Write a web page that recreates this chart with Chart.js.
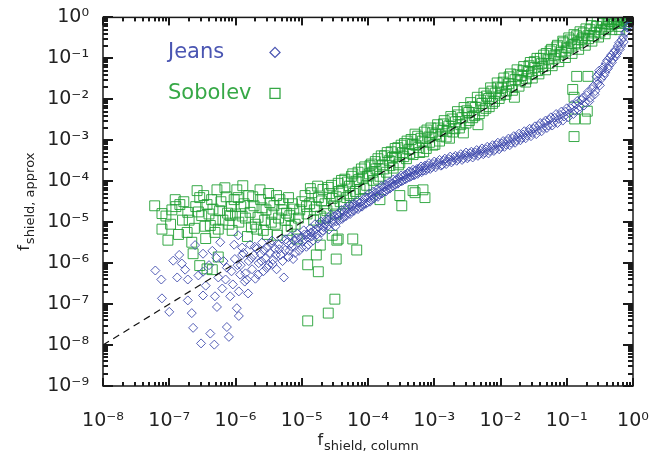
<!DOCTYPE html>
<html>
<head>
<meta charset="utf-8">
<script src="https://cdn.jsdelivr.net/npm/chart.js@4.4.0/dist/chart.umd.min.js"></script>
<style>
  html, body { margin: 0; padding: 0; background: #fff; }
</style>
</head>
<body>
<canvas id="shieldChart" width="670" height="458"></canvas>
<script>
// all points are [log10 f_column, log10 f_approx]
const jeansCloud = [
  [-7.21,-6.18],[-7.12,-6.40],[-7.11,-6.86],[-7.00,-7.19],[-6.94,-5.94],[-6.88,-6.35],
  [-6.85,-5.80],[-6.81,-6.01],[-6.76,-6.16],[-6.72,-6.40],[-6.72,-6.91],[-6.66,-7.22],
  [-6.64,-7.58],[-6.61,-5.56],[-6.56,-6.30],[-6.52,-7.96],[-6.49,-5.77],[-6.49,-6.21],
  [-6.49,-6.79],[-6.38,-7.72],[-6.32,-7.99],[-6.31,-6.81],[-6.29,-5.87],[-6.28,-7.07],
  [-6.23,-5.49],[-6.20,-6.62],[-6.13,-6.11],[-6.13,-7.56],[-6.10,-7.80],[-6.08,-6.81],
  [-6.04,-6.52],[-6.01,-5.90],[-5.98,-7.10],[-5.96,-5.32],[-5.95,-7.29],[-5.95,-6.69],
  [-5.93,-6.28],[-5.86,-6.45],[-5.81,-6.74],[-6.40,-6.05],[-6.35,-5.70],[-6.18,-5.95],
  [-6.15,-6.40],[-6.06,-6.20],[-6.02,-5.55],[-5.97,-6.05],[-5.90,-5.80],[-6.26,-6.35],
  [-6.45,-6.55]
];

const jeansBand = [
  [-5.92,-6.05],[-5.88,-5.75],[-5.85,-6.25],[-5.80,-5.95],[-5.78,-5.55],[-5.75,-6.15],
  [-5.72,-5.80],[-5.70,-6.38],[-5.68,-5.65],[-5.65,-6.00],[-5.62,-5.78],[-5.60,-5.50],
  [-5.58,-6.20],[-5.55,-5.88],[-5.52,-5.62],[-5.50,-6.05],[-5.48,-5.75],[-5.45,-5.45],
  [-5.43,-5.92],[-5.40,-5.65],[-5.38,-6.15],[-5.35,-5.55],[-5.32,-5.80],[-5.30,-5.40],
  [-5.27,-6.35],[-5.25,-5.68],[-5.22,-5.50],[-5.20,-5.85],[-5.17,-5.35],[-5.15,-5.60],
  [-5.12,-5.45],[-5.10,-5.75],[-5.07,-5.28],[-5.05,-5.50],[-5.02,-5.38],[-5.00,-5.62],
  [-4.97,-5.20],[-4.95,-5.42],[-4.92,-5.30],[-4.90,-5.55],[-4.87,-5.15],[-4.85,-5.35],
  [-4.82,-5.22],[-4.80,-5.05],[-4.77,-5.30],[-4.74,-5.12],[-4.71,-4.98],[-4.68,-5.20],
  [-4.65,-5.05],[-4.62,-4.92],
  [-4.60,-5.08],[-4.57,-4.90],[-4.54,-5.02],[-4.51,-4.85],[-4.48,-4.98],[-4.45,-4.88],
  [-4.42,-4.78],[-4.39,-4.92],[-4.36,-4.75],[-4.33,-4.85],[-4.30,-4.68],[-4.27,-4.80],
  [-4.24,-4.62],[-4.21,-4.72],[-4.18,-4.58],[-4.15,-4.68],[-4.12,-4.52],[-4.09,-4.62],
  [-4.06,-4.45],[-4.03,-4.55],[-4.00,-4.40],[-3.97,-4.50],[-3.94,-4.35],[-3.91,-4.42],
  [-3.88,-4.28],[-3.85,-4.38],[-3.82,-4.22],[-3.79,-4.30],[-3.76,-4.15],[-3.73,-4.25],
  [-3.70,-4.10],[-3.67,-4.18],[-3.64,-4.05],[-3.61,-4.12],[-3.58,-3.98],[-3.55,-4.06],
  [-3.52,-3.92],[-3.49,-4.00],[-3.46,-3.88],[-3.43,-3.95],[-3.40,-3.82],[-3.37,-3.90],
  [-3.34,-3.78],[-3.31,-3.86],[-3.28,-3.74],[-3.25,-3.82],[-3.22,-3.70],[-3.19,-3.78],
  [-3.16,-3.66],[-3.13,-3.74],[-3.10,-3.62],[-3.06,-3.70],[-3.02,-3.58],[-2.98,-3.66],
  [-2.94,-3.55],[-2.90,-3.62],[-2.86,-3.50],[-2.82,-3.58],[-2.78,-3.46],[-2.74,-3.54],
  [-2.70,-3.42],[-2.66,-3.50],[-2.62,-3.40],[-2.58,-3.48],[-2.54,-3.36],[-2.50,-3.44],
  [-2.46,-3.32],[-2.42,-3.42],[-2.38,-3.30],[-2.34,-3.38],[-2.30,-3.26],[-2.26,-3.34],
  [-2.22,-3.22],[-2.18,-3.32],[-2.14,-3.18],[-2.10,-3.26],[-2.06,-3.12],[-2.02,-3.22],
  [-1.98,-3.08],[-1.94,-3.16],[-1.90,-3.02],[-1.86,-3.12],[-1.82,-2.96],[-1.78,-3.06],
  [-1.74,-2.92],[-1.70,-3.00],[-1.66,-2.86],[-1.62,-2.95],[-1.58,-2.80],[-1.54,-2.90],
  [-1.50,-2.72],[-1.46,-2.85],[-1.42,-2.65],[-1.38,-2.78],[-1.34,-2.58],[-1.30,-2.70],
  [-1.26,-2.50],[-1.22,-2.64],[-1.18,-2.45],[-1.14,-2.58],[-1.10,-2.38],[-1.06,-2.52],
  [-1.02,-2.30],[-0.98,-2.44],[-0.94,-2.22],[-0.90,-2.36],[-0.86,-2.12],[-0.82,-2.26],
  [-0.78,-2.02],[-0.74,-2.15],[-0.70,-1.90],[-0.66,-2.05],[-0.62,-1.75],[-0.58,-1.88],
  [-0.55,-1.45],[-0.53,-1.62],[-0.51,-1.30],[-0.48,-1.50],[-0.45,-1.22],[-0.42,-1.35],
  [-0.39,-1.05],[-0.36,-1.18],[-0.33,-0.92],[-0.30,-1.02],[-0.27,-0.80],[-0.24,-0.88],
  [-0.21,-0.62],[-0.18,-0.70],[-0.15,-0.48],[-0.12,-0.38],[-0.09,-0.25],[-0.06,-0.15],
  [-0.03,-0.06]
];

const jeansBandFill = [
  [-5.90,-5.62],[-5.83,-6.40],[-5.76,-5.88],[-5.71,-5.60],[-5.66,-6.28],[-5.61,-5.95],
  [-5.57,-5.70],[-5.53,-6.12],[-5.47,-5.52],[-5.44,-6.02],[-5.39,-5.80],[-5.34,-5.66],
  [-5.29,-5.95],[-5.24,-5.42],[-5.19,-5.70],[-5.16,-5.52],[-5.13,-5.90],[-5.08,-5.40],
  [-5.04,-5.70],[-4.99,-5.48],[-4.96,-5.30],[-4.93,-5.60],[-4.89,-5.38],[-4.86,-5.25],
  [-4.83,-5.45],[-4.79,-5.18],[-4.76,-5.40],[-4.73,-5.02],[-4.70,-5.25],[-4.67,-5.12],
  [-4.63,-4.98],[-4.59,-5.18],[-4.56,-4.82],[-4.53,-4.95],[-4.49,-5.10],[-4.46,-4.80],
  [-4.43,-4.95],[-4.40,-4.70],[-4.37,-4.88],[-4.34,-4.66],[-4.31,-4.78],[-4.28,-4.58],
  [-4.25,-4.74],[-4.22,-4.55],[-4.19,-4.66],[-4.16,-4.48],[-4.13,-4.63],[-4.10,-4.50],
  [-4.07,-4.56],[-4.04,-4.38],[-4.01,-4.52],[-3.98,-4.30],[-3.95,-4.45],[-3.92,-4.25],
  [-3.89,-4.36],[-3.86,-4.20],[-3.83,-4.32],[-3.80,-4.12],[-3.77,-4.26],[-3.74,-4.08],
  [-3.71,-4.20],[-3.68,-4.02],[-3.65,-4.14],[-3.62,-3.96],[-3.59,-4.08],[-3.56,-3.94],
  [-3.53,-4.02],[-3.50,-3.86],[-3.47,-3.98],[-3.44,-3.84],[-3.41,-3.92],[-3.38,-3.76],
  [-3.35,-3.88],[-3.32,-3.72],[-3.29,-3.84],[-3.26,-3.70],[-3.23,-3.77],[-3.20,-3.64],
  [-3.17,-3.74],[-3.14,-3.62],[-3.11,-3.70],[-3.08,-3.56],[-3.04,-3.66],[-3.00,-3.52],
  [-2.96,-3.60],[-2.92,-3.48],[-2.88,-3.60],[-2.84,-3.45],[-2.80,-3.52],[-2.76,-3.40],
  [-2.72,-3.50],[-2.68,-3.38],[-2.64,-3.46],[-2.60,-3.34],[-2.56,-3.44],[-2.52,-3.30],
  [-2.48,-3.40],[-2.44,-3.28],[-2.40,-3.36],[-2.36,-3.24],[-2.32,-3.34],[-2.28,-3.20],
  [-2.24,-3.30],[-2.20,-3.16],[-2.16,-3.26],[-2.12,-3.12],[-2.08,-3.22],[-2.04,-3.06],
  [-2.00,-3.16],[-1.96,-3.02],[-1.92,-3.10],[-1.88,-2.96],[-1.84,-3.06],[-1.80,-2.90],
  [-1.76,-3.00],[-1.72,-2.84],[-1.68,-2.94],[-1.64,-2.78],[-1.60,-2.88],[-1.56,-2.72],
  [-1.52,-2.82],[-1.48,-2.66],[-1.44,-2.76],[-1.40,-2.58],[-1.36,-2.70],[-1.32,-2.52],
  [-1.28,-2.64],[-1.24,-2.44],[-1.20,-2.56],[-1.16,-2.36],[-1.12,-2.48],[-1.08,-2.30],
  [-1.04,-2.42],[-1.00,-2.22],[-0.96,-2.34],[-0.92,-2.14],[-0.88,-2.28],[-0.84,-2.04],
  [-0.80,-2.18],[-0.76,-1.96],[-0.72,-2.08],[-0.68,-1.82],[-0.64,-1.96],[-0.60,-1.68],
  [-0.57,-1.80],[-0.54,-1.55],[-0.52,-1.38],[-0.50,-1.66],[-0.47,-1.30],[-0.44,-1.42],
  [-0.41,-1.12],[-0.38,-1.25],[-0.35,-0.98],[-0.32,-1.10],[-0.29,-0.86],[-0.26,-0.95],
  [-0.23,-0.70],[-0.20,-0.78],[-0.17,-0.55],[-0.14,-0.60],[-0.11,-0.35],[-0.07,-0.22],
  [-0.04,-0.10]
];

const sobolevCloud = [
  [-7.22,-4.60],[-7.11,-4.79],[-7.11,-5.17],[-7.02,-5.44],[-6.96,-4.70],[-6.91,-4.45],
  [-6.84,-4.57],[-6.80,-4.95],[-6.73,-5.25],[-6.72,-4.76],[-6.66,-5.49],[-6.64,-5.77],
  [-6.60,-4.62],[-6.58,-4.23],[-6.54,-4.40],[-6.54,-6.06],[-6.51,-4.84],[-6.46,-5.10],
  [-6.43,-4.57],[-6.43,-6.14],[-6.38,-5.08],[-6.35,-6.16],[-6.34,-4.68],[-6.30,-4.95],
  [-6.28,-4.21],[-6.26,-5.17],[-6.26,-5.85],[-6.22,-4.50],[-6.16,-4.16],[-6.12,-4.78],
  [-6.08,-4.84],[-6.05,-5.20],[-6.02,-4.45],[-5.98,-4.21],[-5.95,-5.00],[-5.92,-4.62],
  [-5.89,-4.11],[-5.85,-4.90],[-5.82,-5.35],[-5.78,-4.76],[-5.74,-4.38],[-5.70,-5.05],
  [-5.68,-5.17],[-5.63,-4.21],[-5.60,-4.65],[-5.56,-4.95],[-5.52,-5.30],[-5.48,-4.52],
  [-5.45,-4.80],[-5.40,-5.05],[-5.37,-5.32],[-5.33,-4.45],[-5.30,-4.70],[-5.25,-4.95],
  [-5.22,-5.20],[-5.18,-4.84],[-5.14,-4.55],[-5.10,-5.05],[-5.07,-5.41],[-5.03,-4.70],
  [-7.05,-4.85],[-6.98,-5.05],[-6.90,-4.62],[-6.86,-5.30],[-6.78,-4.50],[-6.70,-4.95],
  [-6.62,-5.15],[-6.56,-4.75],[-6.48,-4.35],[-6.45,-5.40],[-6.40,-4.80],[-6.36,-4.45],
  [-6.31,-5.25],[-6.24,-4.72],[-6.19,-4.95],[-6.14,-4.38],[-6.10,-5.05],[-6.06,-4.62],
  [-6.00,-4.80],[-5.96,-4.40],[-5.90,-4.85],[-5.87,-4.55],[-5.80,-4.35],[-5.76,-5.12],
  [-5.72,-4.60],[-5.66,-4.88],[-5.62,-4.45],[-5.58,-5.20],[-5.54,-4.70],[-5.50,-4.30],
  [-5.46,-5.00],[-5.42,-4.60],[-5.38,-4.35],[-5.35,-4.90],[-5.28,-4.55],[-5.23,-4.78],
  [-5.20,-4.40],[-5.16,-5.10],[-5.12,-4.68],[-5.05,-4.90],[-5.00,-4.50]
];

const sobolevBand = [
  [-4.95,-4.35],[-4.92,-4.80],[-4.88,-4.55],[-4.85,-4.28],[-4.82,-4.95],[-4.78,-4.62],
  [-4.75,-4.40],[-4.72,-4.85],[-4.68,-4.20],[-4.65,-4.55],[-4.62,-4.72],[-4.58,-4.30],
  [-4.55,-4.10],[-4.52,-4.60],[-4.48,-4.38],[-4.45,-4.05],[-4.42,-4.50],[-4.38,-4.22],
  [-4.35,-3.95],[-4.32,-4.40],[-4.28,-4.12],[-4.25,-3.88],[-4.22,-4.30],[-4.18,-4.00],
  [-4.15,-3.78],[-4.12,-4.20],[-4.08,-3.92],[-4.05,-3.65],[-4.02,-4.10],[-3.98,-3.82],
  [-3.95,-3.58],[-3.92,-3.98],[-3.88,-3.70],[-3.85,-3.45],[-3.82,-3.88],[-3.78,-3.60],
  [-3.75,-3.38],[-3.72,-3.78],[-3.68,-3.50],[-3.65,-3.28],[-3.62,-3.68],[-3.58,-3.40],
  [-3.55,-3.18],[-3.52,-3.55],[-3.48,-3.30],[-3.45,-3.08],[-3.42,-3.45],[-3.38,-3.22],
  [-3.35,-2.98],[-3.32,-3.35],[-3.28,-3.12],[-3.25,-2.90],[-3.22,-3.30],[-3.18,-3.02],
  [-3.15,-2.80],[-3.12,-3.20],[-3.08,-2.92],[-3.05,-2.70],[-3.02,-3.12],[-2.98,-2.85],
  [-2.95,-2.62],[-2.92,-3.02],[-2.88,-2.75],[-2.85,-2.52],[-2.82,-2.92],[-2.78,-2.65],
  [-2.75,-2.42],[-2.72,-2.80],[-2.68,-2.55],[-2.65,-2.30],[-2.62,-2.70],[-2.58,-2.45],
  [-2.55,-2.20],[-2.52,-2.58],[-2.48,-2.32],[-2.45,-2.08],[-2.42,-2.45],[-2.38,-2.20],
  [-2.35,-1.95],[-2.32,-2.35],[-2.28,-2.10],[-2.25,-1.85],[-2.22,-2.22],[-2.18,-1.98],
  [-2.15,-1.72],[-2.12,-2.10],[-2.08,-1.85],[-2.05,-1.60],[-2.02,-1.98],[-1.98,-1.72],
  [-1.95,-1.48],[-1.92,-1.88],[-1.88,-1.62],[-1.85,-1.38],[-1.82,-1.78],[-1.78,-1.52],
  [-1.75,-1.28],[-1.72,-1.68],[-1.68,-1.42],[-1.65,-1.20],[-1.62,-1.58],[-1.58,-1.32],
  [-1.55,-1.10],[-1.52,-1.48],[-1.48,-1.22],[-1.45,-1.00],[-1.42,-1.38],[-1.38,-1.12],
  [-1.35,-0.92],[-1.32,-1.28],[-1.28,-1.02],[-1.25,-0.82],[-1.22,-1.18],[-1.18,-0.92],
  [-1.15,-0.72],[-1.12,-1.08],[-1.08,-0.85],[-1.05,-0.62],[-1.02,-0.98],[-0.98,-0.75],
  [-0.95,-0.55],[-0.92,-0.88],[-0.88,-0.65],[-0.85,-0.45],[-0.82,-0.78],[-0.78,-0.55],
  [-0.75,-0.38],[-0.72,-0.68],[-0.68,-0.45],[-0.65,-0.30],[-0.62,-0.58],[-0.58,-0.38],
  [-0.55,-0.22],[-0.52,-0.48],[-0.48,-0.30],[-0.45,-0.15],[-0.42,-0.40],[-0.38,-0.22],
  [-0.35,-0.10],[-0.32,-0.30],[-0.28,-0.15],[-0.25,-0.05],[-0.22,-0.22],[-0.18,-0.08],
  [-0.15,-0.02],[-0.12,-0.15],[-0.08,-0.05],[-0.05,0.00],[-0.02,-0.03]
];

const sobolevBandFill = [
  [-4.93,-4.62],[-4.87,-4.18],[-4.81,-4.70],[-4.76,-4.12],[-4.70,-4.48],[-4.64,-4.90],
  [-4.60,-4.15],[-4.54,-4.42],[-4.49,-4.80],[-4.44,-4.25],[-4.40,-3.98],[-4.36,-4.55],
  [-4.31,-4.02],[-4.27,-4.35],[-4.23,-3.82],[-4.19,-4.25],[-4.14,-3.96],[-4.10,-3.70],
  [-4.06,-4.18],[-4.01,-3.88],[-3.97,-3.62],[-3.93,-3.78],[-3.89,-3.52],[-3.84,-3.95],
  [-3.80,-3.38],[-3.76,-3.70],[-3.71,-3.30],[-3.67,-3.62],[-3.63,-3.42],[-3.59,-3.20],
  [-3.54,-3.60],[-3.50,-3.12],[-3.46,-3.40],[-3.41,-3.02],[-3.37,-3.32],[-3.33,-3.10],
  [-3.29,-2.85],[-3.24,-3.18],[-3.20,-2.95],[-3.16,-3.28],[-3.11,-2.75],[-3.07,-3.05],
  [-3.03,-2.82],[-2.99,-3.10],[-2.94,-2.70],[-2.90,-2.90],[-2.86,-2.60],[-2.81,-2.78],
  [-2.77,-2.95],[-2.73,-2.48],[-2.69,-2.72],[-2.64,-2.38],[-2.60,-2.62],[-2.56,-2.82],
  [-2.51,-2.28],[-2.47,-2.52],[-2.43,-2.18],[-2.39,-2.40],[-2.34,-2.62],[-2.30,-2.02],
  [-2.26,-2.28],[-2.21,-1.92],[-2.17,-2.18],[-2.13,-1.80],[-2.09,-2.05],[-2.04,-1.70],
  [-2.00,-1.90],[-1.96,-1.58],[-1.91,-1.80],[-1.87,-1.45],[-1.83,-1.68],[-1.79,-1.95],
  [-1.74,-1.40],[-1.70,-1.55],[-1.66,-1.30],[-1.61,-1.50],[-1.57,-1.18],[-1.53,-1.38],
  [-1.49,-1.08],[-1.44,-1.30],[-1.40,-1.00],[-1.36,-1.20],[-1.31,-0.88],[-1.27,-1.12],
  [-1.23,-0.78],[-1.19,-1.00],[-1.14,-0.68],[-1.10,-0.90],[-1.06,-0.58],[-1.01,-0.82],
  [-0.97,-0.50],[-0.93,-0.70],[-0.89,-0.42],[-0.84,-0.62],[-0.80,-0.35],[-0.76,-0.50],
  [-0.71,-0.28],[-0.67,-0.52],[-0.63,-0.20],[-0.59,-0.45],[-0.54,-0.12],[-0.50,-0.36],
  [-0.46,-0.08],[-0.41,-0.28],[-0.37,-0.05],[-0.33,-0.18],[-0.29,-0.02],[-0.24,-0.12],
  [-0.20,-0.30],[-0.16,0.00],[-0.10,-0.10],[-0.06,-0.18]
];

const sobolevOutliers = [
  [-4.91,-6.04],[-4.75,-6.21],[-4.48,-5.90],[-4.78,-5.80],[-4.72,-5.56],[-4.47,-5.44],
  [-4.23,-5.41],[-4.17,-5.68],[-4.54,-5.32],[-4.45,-5.41],[-4.91,-7.41],[-4.60,-7.22],
  [-4.50,-6.88],[-3.82,-4.45],[-3.52,-4.35],[-3.49,-4.60],[-3.32,-4.23],[-3.29,-4.28],
  [-3.17,-4.21],[-3.14,-4.40],[-0.85,-1.44],[-0.68,-1.44],[-0.91,-1.76],[-0.89,-1.95],
  [-0.69,-2.29],[-0.72,-2.48],[-0.88,-2.48],[-0.89,-2.91]
];

// one-to-one line
const equalX = [1e-8, 1];
const equalY = [1e-8, 1];

const xRange = [1e-8, 1];
const yRange = [1e-9, 1];

const jeansColor = "rgba(60,72,172,0.88)";
const sobolevColor = "rgba(30,158,48,0.88)";

function toPoints(list) {
  return list.map((p) => ({ x: Math.pow(10, p[0]), y: Math.pow(10, p[1]) }));
}

const supDigits = { "-": "\u207B", "0": "\u2070", "1": "\u00B9", "2": "\u00B2", "3": "\u00B3",
  "4": "\u2074", "5": "\u2075", "6": "\u2076", "7": "\u2077", "8": "\u2078", "9": "\u2079" };

function isDecade(v) {
  const e = Math.log10(v);
  return Math.abs(e - Math.round(e)) < 1e-6;
}

function decadeLabel(v) {
  if (!isDecade(v)) return "";
  const e = Math.round(Math.log10(v));
  return "10" + String(e).split("").map((c) => supDigits[c]).join("");
}

// 1..9 x 10^n marks between min and max
function logMarks(min, max) {
  const marks = [];
  for (let e = Math.floor(Math.log10(min)); e <= Math.ceil(Math.log10(max)); e++) {
    for (let k = 1; k <= 9; k++) {
      const v = k * Math.pow(10, e);
      if (v >= min * 0.999 && v <= max * 1.001) marks.push({ v: v, major: k === 1 });
    }
  }
  return marks;
}

// box with inward ticks on all four sides, like the original
const frameTicks = {
  id: "frameTicks",
  afterDraw(chart) {
    const c = chart.ctx;
    const a = chart.chartArea;
    const sx = chart.scales.x;
    const sy = chart.scales.y;
    c.save();
    c.fillStyle = "#1a1a1a";
    logMarks(xRange[0], xRange[1]).forEach((m) => {
      const px = Math.round(sx.getPixelForValue(m.v));
      const len = m.major ? 8 : 4;
      c.fillRect(px - 1, a.bottom - len, 2, len);
      c.fillRect(px - 1, a.top, 2, len);
    });
    logMarks(yRange[0], yRange[1]).forEach((m) => {
      const py = Math.round(sy.getPixelForValue(m.v));
      const len = m.major ? 10 : 5;
      c.fillRect(a.left, py - 1, len, 2);
      c.fillRect(a.right - len, py - 1, len, 2);
    });
    c.strokeStyle = "#1a1a1a";
    c.lineWidth = 1.5;
    c.strokeRect(a.left, a.top, a.right - a.left, a.bottom - a.top);
    c.restore();
  },
};

// axis titles with subscripts
const axisTitles = {
  id: "axisTitles",
  afterDraw(chart) {
    const c = chart.ctx;
    const a = chart.chartArea;
    const big = "16px 'DejaVu Sans'";
    const small = "13px 'DejaVu Sans'";
    c.save();
    c.fillStyle = "#222";
    c.textBaseline = "alphabetic";

    c.font = big;
    const fW = c.measureText("f").width;
    c.font = small;
    const subX = "shield, column";
    const subXW = c.measureText(subX).width;
    const x0 = (a.left + a.right) / 2 - (fW + 1 + subXW) / 2;
    c.font = big;
    c.fillText("f", x0, 445);
    c.font = small;
    c.fillText(subX, x0 + fW + 1, 450);

    const subY = "shield, approx";
    const subYW = c.measureText(subY).width;
    c.translate(29, (a.top + a.bottom) / 2);
    c.rotate(-Math.PI / 2);
    const y0 = -(fW + 1 + subYW) / 2;
    c.font = big;
    c.fillText("f", y0, 0);
    c.font = small;
    c.fillText(subY, y0 + fW + 1, 5);
    c.restore();
  },
};

// legend: name first, symbol after it
const textLegend = {
  id: "textLegend",
  afterDraw(chart) {
    const c = chart.ctx;
    const a = chart.chartArea;
    const tx = a.left + 65;
    const mx = a.left + 172;
    const rows = [
      { text: "Jeans", color: "#4a55b2", y: a.top + 35, shape: "diamond" },
      { text: "Sobolev", color: "#36a846", y: a.top + 76, shape: "square" },
    ];
    c.save();
    c.setLineDash([]);
    c.font = "21px 'DejaVu Sans'";
    c.textBaseline = "middle";
    rows.forEach((r) => {
      c.fillStyle = r.color;
      c.fillText(r.text, tx, r.y);
      c.strokeStyle = r.color;
      c.lineWidth = 1.3;
      c.beginPath();
      if (r.shape === "diamond") {
        c.moveTo(mx, r.y - 5);
        c.lineTo(mx + 5, r.y);
        c.lineTo(mx, r.y + 5);
        c.lineTo(mx - 5, r.y);
        c.closePath();
      } else {
        c.rect(mx - 5, r.y - 5, 10, 10);
      }
      c.stroke();
    });
    c.restore();
  },
};

const canvas = document.getElementById("shieldChart");

new Chart(canvas, {
  type: "scatter",
  data: {
    datasets: [
      {
        label: "f_column = f_approx",
        data: equalX.map((x, i) => ({ x: x, y: equalY[i] })),
        showLine: true,
        borderColor: "#111",
        borderWidth: 1.2,
        borderDash: [7, 5],
        pointRadius: 0,
      },
      {
        label: "Jeans",
        data: toPoints(jeansCloud.concat(jeansBand, jeansBandFill)),
        pointStyle: "rectRot",
        pointRadius: 4.5,
        pointBorderWidth: 1,
        pointBorderColor: jeansColor,
        pointBackgroundColor: "rgba(0,0,0,0)",
      },
      {
        label: "Sobolev",
        data: toPoints(sobolevCloud.concat(sobolevBand, sobolevBandFill, sobolevOutliers)),
        pointStyle: "rect",
        pointRadius: 7,
        pointBorderWidth: 1,
        pointBorderColor: sobolevColor,
        pointBackgroundColor: "rgba(0,0,0,0)",
      },
    ],
  },
  options: {
    responsive: false,
    animation: false,
    events: [],
    layout: { padding: { left: 0, right: 37, top: 12, bottom: 0 } },
    plugins: { legend: { display: false }, tooltip: { enabled: false } },
    scales: {
      x: {
        type: "logarithmic",
        min: xRange[0],
        max: xRange[1],
        grid: { display: false },
        border: { display: false },
        afterFit: (scale) => { scale.height = 72; },
        ticks: {
          autoSkip: false,
          maxRotation: 0,
          padding: 16,
          color: "#222",
          font: { family: "DejaVu Sans", size: 19 },
          callback: (v) => decadeLabel(v),
        },
      },
      y: {
        type: "logarithmic",
        min: yRange[0],
        max: yRange[1],
        grid: { display: false },
        border: { display: false },
        afterFit: (scale) => { scale.width = 103; },
        ticks: {
          autoSkip: false,
          padding: 6,
          color: "#222",
          font: { family: "DejaVu Sans", size: 19 },
          callback: (v) => decadeLabel(v),
        },
      },
    },
  },
  plugins: [frameTicks, axisTitles, textLegend],
});
</script>
</body>
</html>
